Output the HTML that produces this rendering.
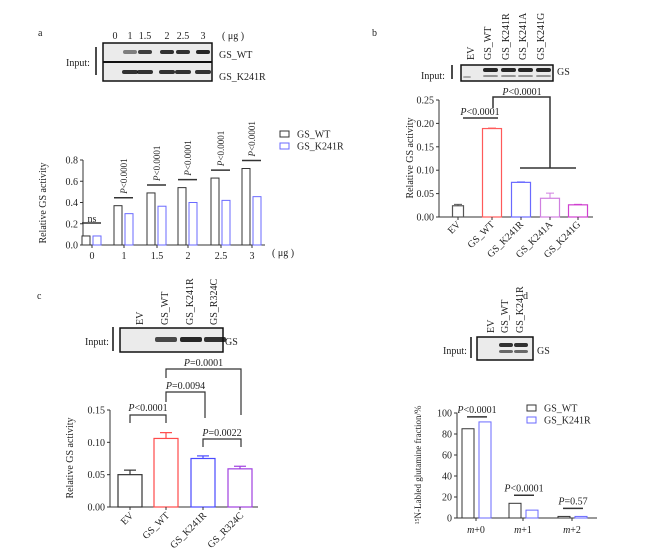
<!DOCTYPE html>
<html><head><meta charset="utf-8"><style>
html,body{margin:0;padding:0;background:#fff}
svg{display:block;font-family:"Liberation Serif",serif}
</style></head><body>
<svg id="fig" width="669" height="551" viewBox="0 0 669 551" xmlns="http://www.w3.org/2000/svg"></svg>
<script>
// ---------- data ----------
const aCats = ["0","1","1.5","2","2.5","3"];
const aWT = [0.085,0.37,0.49,0.54,0.63,0.72];
const aK = [0.085,0.295,0.365,0.40,0.42,0.455];
const aTicks = [0,0.2,0.4,0.6,0.8];
const bCats = ["EV","GS_WT","GS_K241R","GS_K241A","GS_K241G"];
const bVals = [0.024,0.189,0.074,0.040,0.026];
const bErr = [0.003,0.001,0.001,0.011,0.001];
const bTicks = [0,0.05,0.10,0.15,0.20,0.25];
const cCats = ["EV","GS_WT","GS_K241R","GS_R324C"];
const cVals = [0.050,0.106,0.075,0.059];
const cErr = [0.007,0.009,0.004,0.004];
const cTicks = [0,0.05,0.10,0.15];
const dCats = ["+0","+1","+2"];
const dWT = [85,14,1.5];
const dK = [91.5,7.5,1.5];
const dTicks = [0,20,40,60,80,100];

const NS="http://www.w3.org/2000/svg";
const svg=document.getElementById('fig');
function el(tag,attrs,parent){const e=document.createElementNS(NS,tag);for(const k in attrs)e.setAttribute(k,attrs[k]);(parent||svg).appendChild(e);return e;}
function txt(x,y,s,size,extra){const t=el('text',Object.assign({x:x,y:y,'font-size':size||10,fill:'#222'},extra||{}));t.textContent=s;return t;}
function line(x1,y1,x2,y2,w,c){return el('line',{x1,y1,x2,y2,stroke:c||'#333','stroke-width':w||1});}
function poly(pts,w){return el('polyline',{points:pts,fill:'none',stroke:'#333','stroke-width':w||1});}

// ---------- panel labels ----------
[["a",38,36],["b",372,36],["c",37,299],["d",523,299]].forEach(p=>{const t=txt(p[1],p[2],p[0],10);});

// ---------- blots ----------
function blot(x,y,w,h,name){const g=el('g',{});
  el('rect',{x,y,width:w,height:h,fill:'#ebebeb',stroke:'#111','stroke-width':1.5},g);return g;}
function band(g,x,y,w,h,op){el('rect',{x,y,width:w,height:h,rx:2,fill:'#111','fill-opacity':op},g);}
// a
let g=blot(103,43,109,38,'blot-a');
line(103,62,212,62,2,'#111');
[130,145,167,183,203].forEach((x,i)=>{band(g,x-7,50,14,4,[0.5,0.8,0.85,0.85,0.9][i]);band(g,x-8,70,16,4,0.85);});
aCats.forEach((c,i)=>txt([115,130,145,167,183,203][i],39,c,10,{'text-anchor':'middle'}));
txt(222,39,"( μg )",10);
txt(66,66,"Input:",10);line(96,47,96,75,1.5,'#111');
txt(219,58,"GS_WT",10);txt(219,80,"GS_K241R",10);
// b
g=blot(461,65,92,16,'blot-b');
band(g,463,76,8,2,0.3);
[490,508,525,543].forEach(x=>{band(g,x-7,68,15,4,0.9);band(g,x-7,75,15,2,0.4);});
bCats.forEach((c,i)=>txt([474,491,509,526,544][i],60,c,10,{transform:`rotate(-90 ${[474,491,509,526,544][i]} 60)`}));
txt(421,79,"Input:",10);line(452,65,452,79,1.5,'#111');txt(557,75,"GS",10);
// c
g=blot(120,328,103,24,'blot-c');
[166,191,215].forEach((x,i)=>band(g,x-11,337,22,5,[0.75,0.9,0.85][i]));
cCats.forEach((c,i)=>txt([143,168,193,217][i],325,c,10,{transform:`rotate(-90 ${[143,168,193,217][i]} 325)`}));
txt(85,345,"Input:",10);line(113,327,113,351,1.5,'#111');txt(225,345,"GS",10);
// d
g=blot(477,337,56,23,'blot-d');
[506,521].forEach(x=>{band(g,x-7,343,14,4,0.85);band(g,x-7,350,14,3,0.6);});
["EV","GS_WT","GS_K241R"].forEach((c,i)=>txt([494,508,523][i],333,c,10,{transform:`rotate(-90 ${[494,508,523][i]} 333)`}));
txt(443,354,"Input:",10);line(471,337,471,358,1.5,'#111');txt(537,354,"GS",10);

// ---------- axis helper ----------
function yAxis(x,y0,yTop,ticks,fmt,scale,name){const g=el('g',{});
  line(x,y0,x,yTop,1,'#333');
  ticks.forEach(t=>{const y=scale(t);line(x-3,y,x,y,1,'#333');txt(x-5,y+3.5,fmt(t),10,{'text-anchor':'end'});});return g;}

// ---------- chart a ----------
const ay=v=>245-v*(85/0.8);
const aCx=[92,124,157,188,221,252];
yAxis(83,245,160,aTicks,t=>t.toFixed(1),ay,'y-axis-a');
line(83,245,265,245,1,'#333');
aCats.forEach((c,i)=>{line(aCx[i],245,aCx[i],248,1,'#333');txt(aCx[i],259,c,10,{'text-anchor':'middle'});
  const r1=el('rect',{x:aCx[i]-10,y:ay(aWT[i]),width:8,height:245-ay(aWT[i]),fill:'#fff',stroke:'#333','stroke-width':1});
  
  const r2=el('rect',{x:aCx[i]+1,y:ay(aK[i]),width:8,height:245-ay(aK[i]),fill:'#fff',stroke:'#6a6aff','stroke-width':1});
  
  const ly=ay(Math.max(aWT[i],aK[i]))-(i==0?13:8);
  line(aCx[i]-10,ly,aCx[i]+9,ly,1.5,'#333');
  if(i==0)txt(aCx[i],ly-1,"ns",10,{'text-anchor':'middle'});
  else{const t=txt(aCx[i]+3,ly-4,"",9,{transform:`rotate(-90 ${aCx[i]+3} ${ly-4})`});t.innerHTML='<tspan font-style="italic">P</tspan>&lt;0.0001';}
});
txt(272,256,"( μg )",10);
txt(46,203,"Relative GS activity",10,{'text-anchor':'middle',transform:'rotate(-90 46 203)'});
el('rect',{x:280,y:131,width:9,height:6,fill:'#fff',stroke:'#333'});
el('rect',{x:280,y:143,width:9,height:6,fill:'#fff',stroke:'#6a6aff'});
txt(297,137.5,"GS_WT",10);txt(297,149.5,"GS_K241R",10);

// ---------- chart b ----------
const by=v=>217-v*(117/0.25);
const bCx=[458,492,521,550,578];
const bCol=['#555','#ff5a5a','#6a6aff','#d080e0','#d040d0'];
yAxis(439,217,100,bTicks,t=>t.toFixed(2),by,'y-axis-b');
line(439,217,593,217,1,'#333');
bCats.forEach((c,i)=>{const w=i==0?11:19;
  const r=el('rect',{x:bCx[i]-w/2,y:by(bVals[i]),width:w,height:217-by(bVals[i]),fill:'#fff',stroke:bCol[i],'stroke-width':1.2});
  
  const ye=by(bVals[i]+bErr[i]);line(bCx[i],by(bVals[i]),bCx[i],ye,1,bCol[i]);line(bCx[i]-4,ye,bCx[i]+4,ye,1,bCol[i]);
  line(bCx[i],217,bCx[i],220,1,'#333');
  txt(bCx[i]+3,225,c,10,{'text-anchor':'end',transform:`rotate(-45 ${bCx[i]+3} 225)`});
});
line(463,118,498,118,1.5);
let t=txt(480,115,"",10,{'text-anchor':'middle'});t.innerHTML='<tspan font-style="italic">P</tspan>&lt;0.0001';
poly("493,108 493,97 550,97 550,168",1.5);line(520,168,576,168,1.5);
t=txt(522,95,"",10,{'text-anchor':'middle'});t.innerHTML='<tspan font-style="italic">P</tspan>&lt;0.0001';
txt(413,158,"Relative GS activity",10,{'text-anchor':'middle',transform:'rotate(-90 413 158)'});

// ---------- chart c ----------
const cy=v=>507-v*(97/0.15);
const cCx=[130,166,203,240];
const cCol=['#333','#ff4a4a','#4a4aff','#a040e0'];
yAxis(110,507,410,cTicks,t=>t.toFixed(2),cy,'y-axis-c');
line(110,507,258,507,1,'#333');
cCats.forEach((c,i)=>{
  const r=el('rect',{x:cCx[i]-12,y:cy(cVals[i]),width:24,height:507-cy(cVals[i]),fill:'#fff',stroke:cCol[i],'stroke-width':1.2});
  
  const ye=cy(cVals[i]+cErr[i]);line(cCx[i],cy(cVals[i]),cCx[i],ye,1.2,cCol[i]);line(cCx[i]-6,ye,cCx[i]+6,ye,1.2,cCol[i]);
  line(cCx[i],507,cCx[i],510,1,'#333');
  txt(cCx[i]+4,516,c,10,{'text-anchor':'end',transform:`rotate(-45 ${cCx[i]+4} 516)`});
});
function brk(x1,x2,yt,y1,y2,label,ty){poly(`${x1},${y1} ${x1},${yt} ${x2},${yt} ${x2},${y2}`,1.2);
  const t=txt((x1+x2)/2,ty,"",10,{'text-anchor':'middle'});t.innerHTML='<tspan font-style="italic">P</tspan>'+label;}
brk(130,166,415,423,423,"&lt;0.0001",411);
brk(166,205,392,402,418,"=0.0094",389);
brk(166,241,369,378,415,"=0.0001",366);
brk(203,241,439,447,447,"=0.0022",436);
txt(73,458,"Relative GS activity",10,{'text-anchor':'middle',transform:'rotate(-90 73 458)'});

// ---------- chart d ----------
const dy=v=>518-v*1.05;
const dCx=[476,523,572];
yAxis(457,518,413,dTicks,t=>String(t),dy,'y-axis-d');
line(457,518,597,518,1,'#333');
const dP=["&lt;0.0001","&lt;0.0001","=0.57"];
dCats.forEach((c,i)=>{
  const r1=el('rect',{x:dCx[i]-14,y:dy(dWT[i]),width:12,height:518-dy(dWT[i]),fill:'#fff',stroke:'#333','stroke-width':1});
  
  const r2=el('rect',{x:dCx[i]+3,y:dy(dK[i]),width:12,height:518-dy(dK[i]),fill:'#fff',stroke:'#6a6aff','stroke-width':1});
  
  line(dCx[i],518,dCx[i],521,1,'#333');
  const tl=txt(dCx[i],533,"",10,{'text-anchor':'middle'});tl.innerHTML='<tspan font-style="italic">m</tspan>'+c;
  const ly=dy(Math.max(dWT[i],dK[i]))-(i==0?5:8);
  line(dCx[i]-9,ly,dCx[i]+11,ly,1.5);
  const t=txt(dCx[i]+1,ly-4,"",10,{'text-anchor':'middle'});t.innerHTML='<tspan font-style="italic">P</tspan>'+dP[i];
});
el('rect',{x:527,y:405,width:9,height:6,fill:'#fff',stroke:'#333'});
el('rect',{x:527,y:417,width:9,height:6,fill:'#fff',stroke:'#6a6aff'});
txt(544,411.5,"GS_WT",10);txt(544,423.5,"GS_K241R",10);
t=txt(421,465,"",9,{'text-anchor':'middle',transform:'rotate(-90 421 465)'});
t.innerHTML='<tspan font-size="6" dy="-2">15</tspan><tspan dy="2">N-Labled glutamine fraction/%</tspan>';
</script>
</body></html>
